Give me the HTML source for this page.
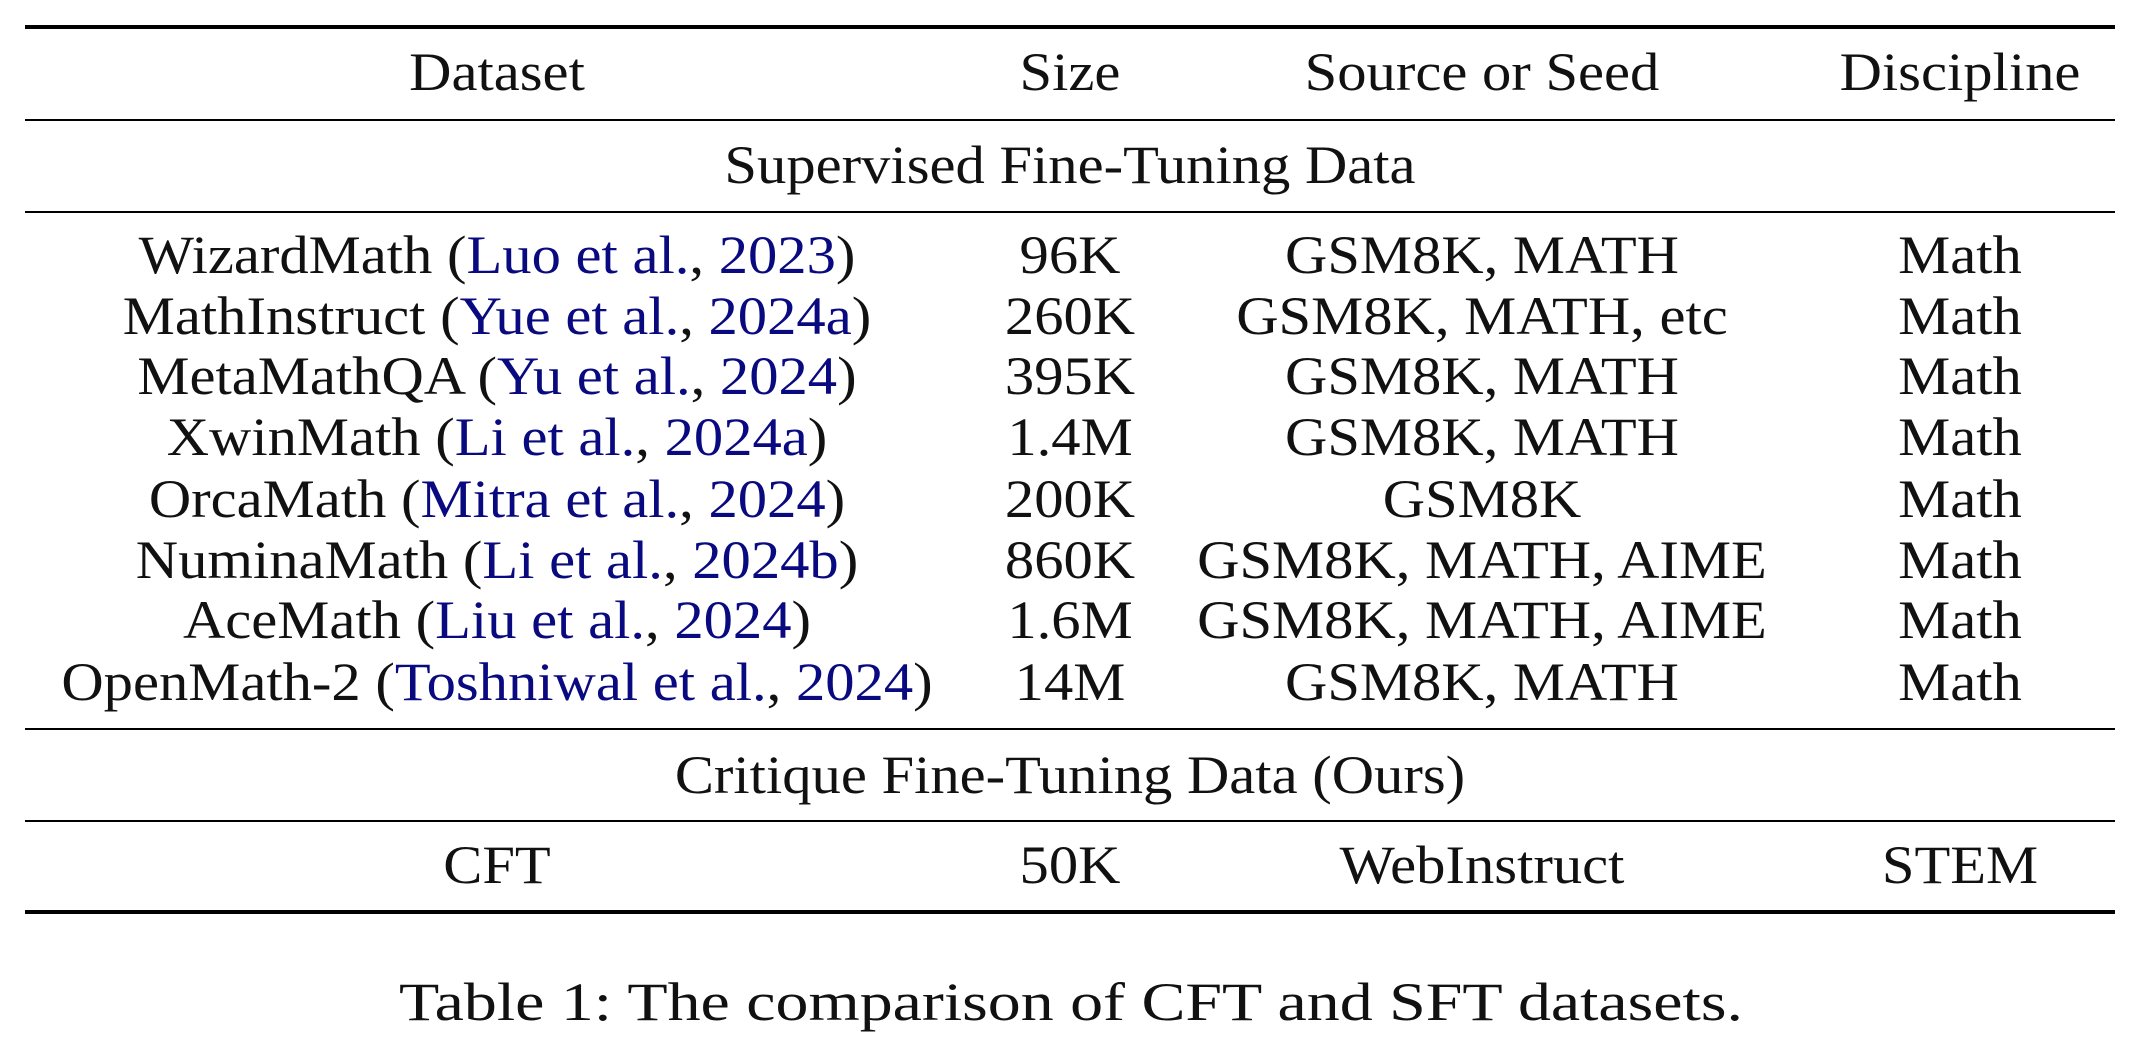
<!DOCTYPE html>
<html><head><meta charset="utf-8"><style>
body{margin:0;width:2142px;height:1048px;background:#fff;position:relative;overflow:hidden;font-family:"Liberation Serif",serif;color:#111;}
.r{position:absolute;left:25px;width:2090px;background:#000;}
.t{position:absolute;font-size:54px;line-height:60px;white-space:nowrap;transform:translateX(-50%) scaleX(1.085);}
.b{color:#0a0a80;}
</style></head><body>
<div class="r" style="top:25px;height:4px"></div>
<div class="r" style="top:119px;height:2px"></div>
<div class="r" style="top:211px;height:2px"></div>
<div class="r" style="top:728px;height:2px"></div>
<div class="r" style="top:820px;height:2px"></div>
<div class="r" style="top:910px;height:4px"></div>

<div class="t" style="left:497px;top:42px">Dataset</div>
<div class="t" style="left:1070px;top:42px">Size</div>
<div class="t" style="left:1482px;top:42px">Source or Seed</div>
<div class="t" style="left:1960px;top:42px">Discipline</div>

<div class="t" style="left:1070px;top:135px">Supervised Fine-Tuning Data</div>

<div class="t" style="left:497px;top:225px">WizardMath (<span class="b">Luo et al.</span>, <span class="b">2023</span>)</div>
<div class="t" style="left:1070px;top:225px">96K</div>
<div class="t" style="left:1482px;top:225px">GSM8K, MATH</div>
<div class="t" style="left:1960px;top:225px">Math</div>

<div class="t" style="left:497px;top:286px">MathInstruct (<span class="b">Yue et al.</span>, <span class="b">2024a</span>)</div>
<div class="t" style="left:1070px;top:286px">260K</div>
<div class="t" style="left:1482px;top:286px">GSM8K, MATH, etc</div>
<div class="t" style="left:1960px;top:286px">Math</div>

<div class="t" style="left:497px;top:346px">MetaMathQA (<span class="b">Yu et al.</span>, <span class="b">2024</span>)</div>
<div class="t" style="left:1070px;top:346px">395K</div>
<div class="t" style="left:1482px;top:346px">GSM8K, MATH</div>
<div class="t" style="left:1960px;top:346px">Math</div>

<div class="t" style="left:497px;top:407px">XwinMath (<span class="b">Li et al.</span>, <span class="b">2024a</span>)</div>
<div class="t" style="left:1070px;top:407px">1.4M</div>
<div class="t" style="left:1482px;top:407px">GSM8K, MATH</div>
<div class="t" style="left:1960px;top:407px">Math</div>

<div class="t" style="left:497px;top:469px">OrcaMath (<span class="b">Mitra et al.</span>, <span class="b">2024</span>)</div>
<div class="t" style="left:1070px;top:469px">200K</div>
<div class="t" style="left:1482px;top:469px">GSM8K</div>
<div class="t" style="left:1960px;top:469px">Math</div>

<div class="t" style="left:497px;top:530px">NuminaMath (<span class="b">Li et al.</span>, <span class="b">2024b</span>)</div>
<div class="t" style="left:1070px;top:530px">860K</div>
<div class="t" style="left:1482px;top:530px">GSM8K, MATH, AIME</div>
<div class="t" style="left:1960px;top:530px">Math</div>

<div class="t" style="left:497px;top:590px">AceMath (<span class="b">Liu et al.</span>, <span class="b">2024</span>)</div>
<div class="t" style="left:1070px;top:590px">1.6M</div>
<div class="t" style="left:1482px;top:590px">GSM8K, MATH, AIME</div>
<div class="t" style="left:1960px;top:590px">Math</div>

<div class="t" style="left:497px;top:652px">OpenMath-2 (<span class="b">Toshniwal et al.</span>, <span class="b">2024</span>)</div>
<div class="t" style="left:1070px;top:652px">14M</div>
<div class="t" style="left:1482px;top:652px">GSM8K, MATH</div>
<div class="t" style="left:1960px;top:652px">Math</div>

<div class="t" style="left:1070px;top:745px">Critique Fine-Tuning Data (Ours)</div>

<div class="t" style="left:497px;top:835px">CFT</div>
<div class="t" style="left:1070px;top:835px">50K</div>
<div class="t" style="left:1482px;top:835px">WebInstruct</div>
<div class="t" style="left:1960px;top:835px">STEM</div>

<div class="t" style="left:1071px;top:972px;transform:translateX(-50%) scaleX(1.22)">Table 1: The comparison of CFT and SFT datasets.</div>
</body></html>
